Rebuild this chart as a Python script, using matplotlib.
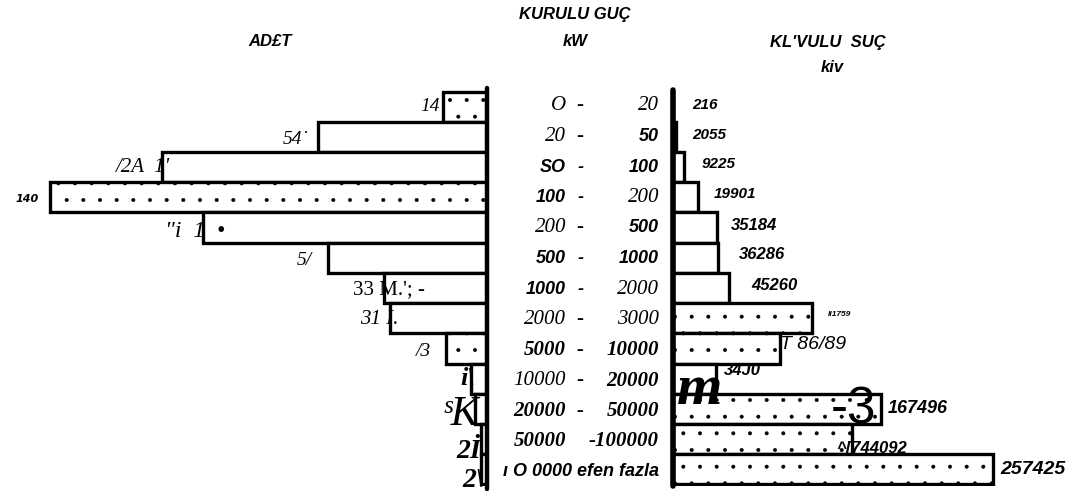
import matplotlib
matplotlib.use("Agg")
import matplotlib.pyplot as plt

# range classes (kW) - as printed in the scan
range_lo = ["O", "20", "SO", "100", "200", "500", "1000",
            "2000", "5000", "10000", "20000", "50000", ""]
range_hi = ["20", "50", "100", "200", "500", "1000", "2000",
            "3000", "10000", "20000", "50000", "-100000", "ı O 0000 efen fazla"]

# left side: number of plants (ADET)
adet = [14, 54, 104, 140, 91, 51, 33, 31, 13, 5, 4, 2, 2]
adet_labels = ["14", "54˙", "/2A  1'", "140", "\"i  1  •", "5/", "33 M.'; -",
               "31 I.", "/3", "i\\", "ˢK", "2İ", "2\\"]

# right side: installed power (KURULU GUC, kW)
guc = [216, 2055, 9225, 19901, 35184, 36286, 45260, 111759, 86189,
       34310, 167496, 144092, 257425]
guc_labels = ["216", "2055", "9225", "19901", "35184", "36286", "45260",
              "II1759", "T 86/89", "34J0", "167496", "^[744092", "257425"]

# fonts used per row in the middle column (s = serif italic, S = serif bold italic, b = sans bold italic)
lo_font = ["s", "s", "b", "b", "s", "b", "b", "s", "S", "s", "S", "S", "b"]
hi_font = ["s", "b", "b", "s", "b", "b", "s", "s", "S", "S", "S", "S", "b"]

plt.rcParams["hatch.linewidth"] = 0.4
plt.rcParams["hatch.color"] = "#333333"

W, H = 1081, 499
fig = plt.figure(figsize=(W / 100, H / 100), dpi=100)
bottom = 13 / H
height = 396 / H
ax_l = fig.add_axes([0, bottom, 487 / W, height])
ax_r = fig.add_axes([673 / W, bottom, 408 / W, height])

rows = list(range(len(adet)))
dotted_l = [True, False, False, True, False, False, False, False, True, False, False, False, False]
dotted_r = [False, False, False, False, False, False, False, True, True, False, True, True, True]

for i in rows:
    ax_l.barh(i, adet[i], height=1.0, color="white", edgecolor="black",
              linewidth=2.4, hatch="." if dotted_l[i] else None)
    ax_r.barh(i, guc[i], height=1.0, color="white", edgecolor="black",
              linewidth=2.4, hatch="." if dotted_r[i] else None)

ax_l.set_xlim(156, 0)
ax_r.set_xlim(0, 328000)
for ax in (ax_l, ax_r):
    ax.set_ylim(12.55, -0.55)
    ax.axis("off")
ax_l.plot([0, 0], [-0.6, 12.65], color="black", lw=3.2, clip_on=False, solid_capstyle="round")
ax_r.plot([0, 0], [-0.55, 12.55], color="black", lw=4, clip_on=False, solid_capstyle="round")

# left value labels (offsets in px from bar end, + is to the right / down)
l_dx = [-3, -10, 8, -11, 22, -16, 41, 8, -15, 4, 4, 0, 3]
l_dy = [0, 3, 0, 2, 4, 3, 2, 1, 3, 0, 6, 12, 11]
l_size = [14, 14, 15, 8, 17, 14, 15, 15, 14, 19, 30, 20, 20]
l_ital = [True, True, True, True, True, True, False, True, True, True, True, True, True]
for i in rows:
    fam = "DejaVu Sans" if i == 3 else "Liberation Serif"
    ax_l.annotate(adet_labels[i], (adet[i], i), xytext=(l_dx[i] * 0.72, -l_dy[i] * 0.72),
                  textcoords="offset points", ha="right", va="center",
                  fontsize=l_size[i], family=fam,
                  style="italic" if l_ital[i] else "normal",
                  fontweight="bold" if i in (3, 9, 11, 12) else "normal")

# right value labels
r_dx = [19, 17, 17, 16, 14, 21, 22, 16, 0, 8, 6, -16, 7]
r_dy = [-2, -2, -3, -3, -2, -3, -2, -4, -4, -8, 0, 9, 0]
r_size = [11, 11, 11, 11, 12, 12, 12, 6, 14, 12, 13, 12, 14]
for i in rows:
    ax_r.annotate(guc_labels[i], (guc[i], i), xytext=(r_dx[i] * 0.72, -r_dy[i] * 0.72),
                  textcoords="offset points", ha="left", va="center",
                  fontsize=r_size[i], family="Liberation Sans", style="italic",
                  fontweight="normal" if i in (8,) else "bold")

# the odd big glyphs of the scan
fig.text(677 / W, 1 - 390 / H, "m", fontsize=42, family="Liberation Serif",
         style="italic", fontweight="bold", ha="left", va="center")
fig.text(831 / W, 1 - 410 / H, "-3", fontsize=37, family="Liberation Sans",
         ha="left", va="center")

# middle column with the ranges
fonts = {"s": dict(family="Liberation Serif", style="italic", fontsize=15),
         "S": dict(family="Liberation Serif", style="italic", fontweight="bold", fontsize=15),
         "b": dict(family="Liberation Sans", style="italic", fontweight="bold", fontsize=13)}
for i in rows:
    y = 1 - (106 + i * 30.5) / H
    if range_lo[i]:
        fig.text(566 / W, y, range_lo[i], ha="right", va="center", **fonts[lo_font[i]])
        if i != 11:
            fig.text(580 / W, y, "-", ha="center", va="center", **fonts[lo_font[i]])
    fig.text(659 / W, y, range_hi[i], ha="right", va="center", **fonts[hi_font[i]])

# headers
hdr = dict(family="Liberation Sans", style="italic", fontweight="bold", fontsize=12)
fig.text(575 / W, 1 - 15 / H, "KURULU GUÇ", ha="center", va="center", **hdr)
fig.text(575 / W, 1 - 42 / H, "kW", ha="center", va="center", **hdr)
fig.text(270 / W, 1 - 42 / H, "AD£T", ha="center", va="center", **hdr)
fig.text(828 / W, 1 - 42 / H, "KL'VULU  SUÇ", ha="center", va="center", **hdr)
fig.text(832 / W, 1 - 67 / H, "kiv", ha="center", va="center", **hdr)

fig.savefig("out.png", dpi=100)
